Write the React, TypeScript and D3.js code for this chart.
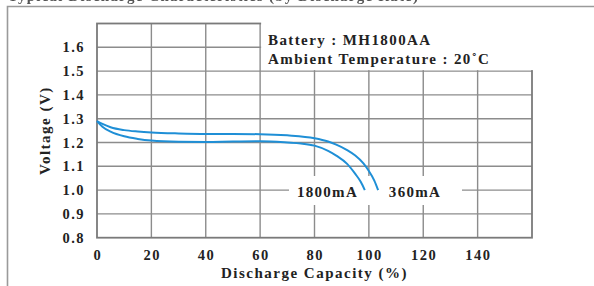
import React from "react";
import * as d3 from "d3";

const xTicks = [0, 20, 40, 60, 80, 100, 120, 140];
const yTicks = [0.8, 0.9, 1.0, 1.1, 1.2, 1.3, 1.4, 1.5, 1.6];

const cap360 = [0, 2, 5, 10, 15, 20, 30, 40, 50, 60, 70, 80, 85, 88, 92, 95, 98, 100, 102, 103.4];
const volt360 = [1.29, 1.278, 1.264, 1.252, 1.246, 1.242, 1.238, 1.236, 1.236, 1.235, 1.23, 1.218, 1.204, 1.191, 1.168, 1.145, 1.112, 1.08, 1.04, 1.0];

const cap1800 = [0, 2, 5, 10, 15, 20, 30, 40, 50, 60, 70, 75, 80, 85, 88, 92, 95, 97, 98.5];
const volt1800 = [1.29, 1.266, 1.246, 1.226, 1.215, 1.208, 1.203, 1.202, 1.204, 1.205, 1.2, 1.196, 1.187, 1.165, 1.145, 1.11, 1.068, 1.035, 1.0];

const seriesLabels = ["1800mA", "360mA"];
const infoLines = ["Battery : MH1800AA", "Ambient Temperature : 20\u02DAC"];
const title = "Typical Discharge Characteristics (by Discharge Rate)";
const xTitle = "Discharge Capacity (%)";
const yTitle = "Voltage (V)";

export default function App() {
  const W = 594, H = 286;
  const x = d3.scaleLinear().domain([0, 160]).range([97, 532]);
  const y = d3.scaleLinear().domain([0.8, 1.7]).range([237.7, 23.5]);
  const line = d3
    .line<[number, number]>()
    .x((d) => x(d[0]))
    .y((d) => y(d[1]))
    .curve(d3.curveMonotoneX);
  const d360 = line(cap360.map((c, i) => [c, volt360[i]] as [number, number])) || "";
  const d1800 = line(cap1800.map((c, i) => [c, volt1800[i]] as [number, number])) || "";
  const font = "'Liberation Serif', 'Times New Roman', serif";
  const gridColor = "#8c8c8c";
  const txt = "#222";
  const [x0, x1] = x.domain();
  const [y0, y1] = y.domain();

  return (
    <div style={{ position: "fixed", left: 0, top: 0, width: W, height: H, background: "#fff" }}>
      <svg width={W} height={H} style={{ display: "block" }} fontFamily={font} fontWeight="bold">
        <rect x={0} y={0} width={W} height={H} fill="#fff" />
        {/* clipped page title */}
        <text x={8} y={0.5} fontSize={15} fill="#555" letterSpacing={1.2} style={{ filter: "blur(0.6px)" }}>
          {title}
        </text>
        {/* outer frame */}
        <path d={`M7.5,${H} V6.5 H${W}`} fill="none" stroke="#9a9a9a" strokeWidth={1.6} />

        {/* grid */}
        {yTicks.slice(1).map((t) => (
          <line key={"h" + t} x1={x(x0)} x2={x(x1)} y1={y(t)} y2={y(t)} stroke={gridColor} strokeWidth={1.4} />
        ))}
        {xTicks.slice(1).map((t) => (
          <line key={"v" + t} x1={x(t)} x2={x(t)} y1={y(y0)} y2={y(y1)} stroke={gridColor} strokeWidth={1.4} />
        ))}
        <rect x={x(x0)} y={y(y0)} width={x(x1) - x(x0)} height={y(y1) - y(y0)} fill="none" />
        {/* plot frame */}
        <rect
          x={x(x0)}
          y={y(y1)}
          width={x(x1) - x(x0)}
          height={y(y0) - y(y1)}
          fill="none"
          stroke="#7a7a7a"
          strokeWidth={1.8}
        />
        {/* info box knock-out */}
        <rect
          x={x(60) + 1}
          y={y(y1) - 3}
          width={x(x1) - x(60) + 4}
          height={y(1.5) - y(y1) + 2}
          fill="#fff"
        />
        {infoLines.map((s, i) => (
          <text key={s} x={268} y={45 + i * 18.5} fontSize={15} fill={txt} letterSpacing={1.4}>
            {s}
          </text>
        ))}

        {/* label knock-out */}
        <rect x={289} y={176} width={173} height={29} fill="#fff" />

        {/* curves */}
        <path d={d360} fill="none" stroke="#1f8fd6" strokeWidth={2} />
        <path d={d1800} fill="none" stroke="#1f8fd6" strokeWidth={2} />

        <text x={327.5} y={197} fontSize={15} fill={txt} letterSpacing={1.3} textAnchor="middle">
          {seriesLabels[0]}
        </text>
        <text x={415} y={197} fontSize={15} fill={txt} letterSpacing={1.3} textAnchor="middle">
          {seriesLabels[1]}
        </text>

        {/* y tick labels */}
        {yTicks.map((t) => (
          <text key={"yl" + t} x={85} y={y(t) + 5} fontSize={14.5} fill={txt} textAnchor="end" letterSpacing={1.5}>
            {t.toFixed(1)}
          </text>
        ))}
        {/* x tick labels */}
        {xTicks.map((t) => (
          <text key={"xl" + t} x={x(t) + 0.8} y={260} fontSize={14.5} fill={txt} textAnchor="middle" letterSpacing={1.5}>
            {t}
          </text>
        ))}
        <text x={x(80)} y={278} fontSize={15} fill={txt} textAnchor="middle" letterSpacing={1.5}>
          {xTitle}
        </text>
        <text
          transform={`translate(50,${(y(y0) + y(y1)) / 2}) rotate(-90)`}
          fontSize={15}
          fill={txt}
          textAnchor="middle"
          letterSpacing={1.5}
        >
          {yTitle}
        </text>
      </svg>
    </div>
  );
}
